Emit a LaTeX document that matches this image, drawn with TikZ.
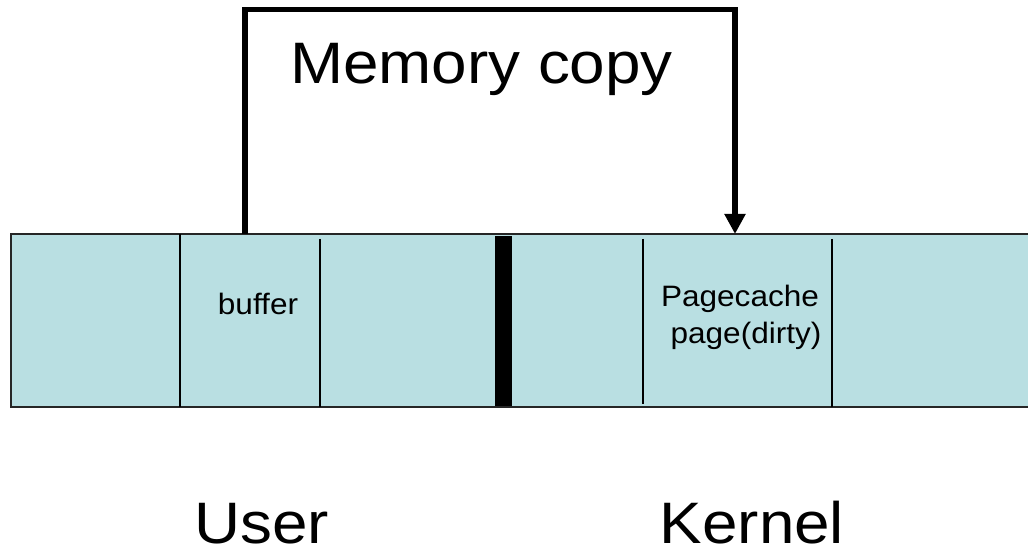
\documentclass[tikz,border=0pt]{standalone}
\usepackage{fontspec}
\setmainfont{Liberation Sans}
\usetikzlibrary{arrows.meta}
\definecolor{cellfill}{RGB}{185,223,226}
\begin{document}
\begin{tikzpicture}[x=1pt,y=-1pt,
  bigtext/.style={font=\fontsize{58.5}{62}\selectfont, inner sep=0pt, anchor=base, xscale=1.09, transform shape},
  smalltext/.style={font=\fontsize{29.5}{34}\selectfont, inner sep=0pt, anchor=base, xscale=1.07, transform shape},
  divider/.style={line width=1.8pt, black},
  copyline/.style={line width=5.5pt, black, -{Triangle[length=20pt,width=20pt]}}]
  \useasboundingbox (0,0) rectangle (1028,553);
  % memory strip
  \draw[fill=cellfill, draw=black!85, line width=1.6pt] (11,234) rectangle (1040,407);
  % cell separators
  \draw[divider] (180,234) -- (180,407);
  \draw[divider] (320,239) -- (320,407);
  \draw[divider] (643,239) -- (643,404);
  \draw[divider] (832,239) -- (832,407);
  % user/kernel boundary
  \fill[black] (495,236) rectangle (512,406);
  % labels
  \node[smalltext] (buf) at (258,315) {buffer};
  \node[smalltext] (pc1) at (740,307) {Pagecache};
  \node[smalltext] (pc2) at (746,343) {page(dirty)};
  \node[bigtext] (mc) at (481.5,84) {Memory copy};
  \node[bigtext] (user) at (261.5,543) {User};
  \node[bigtext] (kernel) at (752,543) {Kernel};
  % copy path from user buffer to page cache
  \coordinate (src) at (245,234);
  \coordinate (dst) at (735,234);
  \draw[copyline] (src) -- (245,9.5) -| (dst);
\end{tikzpicture}
\end{document}
